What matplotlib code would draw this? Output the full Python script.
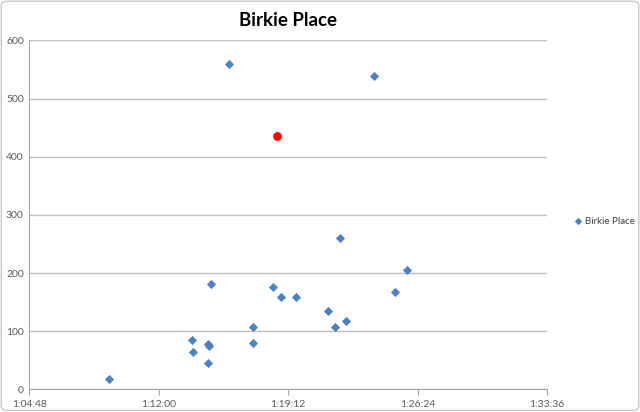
import matplotlib.pyplot as plt
from matplotlib.ticker import FuncFormatter, MultipleLocator
from matplotlib.patches import FancyBboxPatch

plt.rcParams['font.family'] = ['Lato', 'DejaVu Sans']

### finish times (h:mm:ss) and overall place
times = ["1:09:15", "1:13:51", "1:13:53", "1:14:43", "1:14:46", "1:14:48",
         "1:14:55", "1:17:13", "1:17:13", "1:18:22", "1:18:48", "1:19:39",
         "1:15:55", "1:21:24", "1:21:48", "1:22:24", "1:22:04", "1:23:57",
         "1:25:09", "1:25:47"]
places = [18, 84, 64, 45, 78, 75, 181, 108, 80, 176, 158, 159,
          559, 134, 107, 117, 260, 539, 167, 206]

### highlighted result
hl_time = "1:18:35"
hl_place = 435

x_ticks = ["1:04:48", "1:12:00", "1:19:12", "1:26:24", "1:33:36"]


def to_sec(s):
    h, m, sec = s.split(":")
    return int(h) * 3600 + int(m) * 60 + int(sec)


def fmt_time(v, pos=None):
    v = int(round(v))
    return "%d:%02d:%02d" % (v // 3600, (v % 3600) // 60, v % 60)


secs = [to_sec(t) for t in times]
tick_secs = [to_sec(t) for t in x_ticks]

fig = plt.figure(figsize=(6.4, 4.12), dpi=100)
ax = fig.add_axes([0.0458, 0.055, 0.809, 0.847])

ax.scatter(secs, places, marker="D", s=22, color="#4F81BD", zorder=3,
           label="Birkie Place", linewidths=0)
ax.scatter([to_sec(hl_time)], [hl_place], marker="o", s=40, color="#FF0000",
           zorder=4, linewidths=0)

ax.set_xlim(tick_secs[0], tick_secs[-1])
ax.set_ylim(0, 600)
ax.set_xticks(tick_secs)
ax.xaxis.set_major_formatter(FuncFormatter(fmt_time))
ax.yaxis.set_major_locator(MultipleLocator(100))

ax.grid(axis="y", color="#BFBFBF", linewidth=1)
ax.set_axisbelow(True)
for side in ["top", "right"]:
    ax.spines[side].set_visible(False)
for side in ["left", "bottom"]:
    ax.spines[side].set_color("#A6A6A6")
ax.tick_params(axis="x", colors="#A6A6A6", length=4, labelcolor="#595959",
               labelsize=7.5)
ax.tick_params(axis="y", length=0, labelcolor="#595959", labelsize=7.5, pad=4)

ax.set_title("Birkie Place", fontsize=13.5, fontweight="bold", pad=10)

leg = ax.legend(loc="center left", bbox_to_anchor=(1.053, 0.482),
                frameon=False, fontsize=7, handlelength=0.8,
                handletextpad=0.3, markerscale=0.8, borderaxespad=0,
                borderpad=0)
for t in leg.get_texts():
    t.set_color("#404040")

### chart border
fig.patches.append(FancyBboxPatch((0.002, 0.004), 0.996, 0.993,
                                  boxstyle="round,pad=0,rounding_size=0.01",
                                  transform=fig.transFigure, fill=False,
                                  edgecolor="#C8C8C8", linewidth=1))

fig.savefig("out.png", dpi=100)
